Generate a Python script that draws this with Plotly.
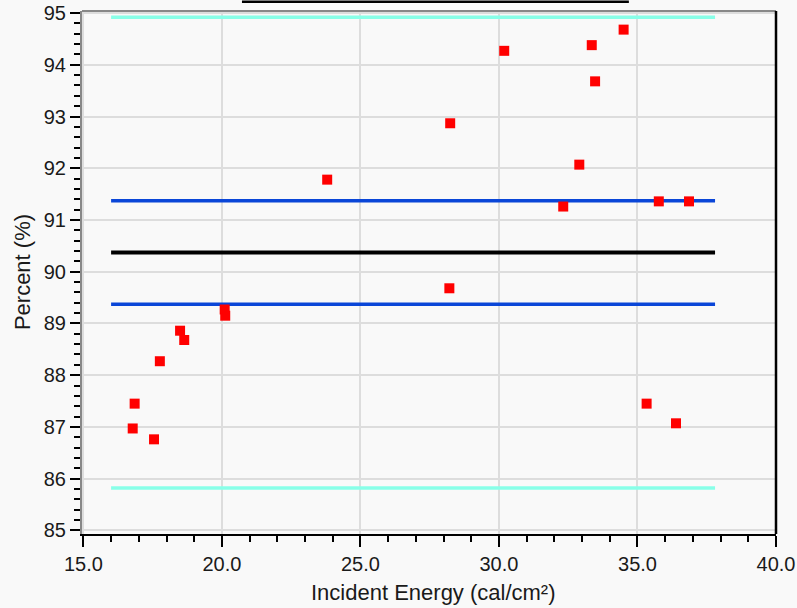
import plotly.graph_objects as go

energy = [23.80, 34.50, 33.35, 30.19, 33.47, 28.24, 32.90, 32.32, 35.77, 36.86, 28.21,
          20.10, 20.12, 18.49, 18.64, 17.76, 16.85, 16.78, 17.55, 35.33, 36.39]
percent = [91.78, 94.68, 94.38, 94.27, 93.68, 92.87, 92.07, 91.26, 91.36, 91.36, 89.68,
           89.27, 89.15, 88.86, 88.68, 88.27, 87.45, 86.97, 86.76, 87.45, 87.07]

line_x = [16.0, 37.8]
mean_val = 90.37
inner_limits = [91.37, 89.37]
outer_limits = [94.92, 85.82]

x_title = "Incident Energy (cal/cm²)"
y_title = "Percent (%)"

FONT = "Liberation Sans"
TXT = "#1a1a1a"
fig = go.Figure()

for v in outer_limits:
    fig.add_trace(go.Scatter(x=line_x, y=[v, v], mode="lines",
                             line=dict(color="#88ffe8", width=3.5), hoverinfo="skip"))
for v in inner_limits:
    fig.add_trace(go.Scatter(x=line_x, y=[v, v], mode="lines",
                             line=dict(color="#0a46d8", width=3.5), hoverinfo="skip"))
fig.add_trace(go.Scatter(x=line_x, y=[mean_val, mean_val], mode="lines",
                         line=dict(color="#000000", width=4), hoverinfo="skip"))
fig.add_trace(go.Scatter(x=energy, y=percent, mode="markers",
                         marker=dict(symbol="square", size=10, color="#ff0000",
                                     line=dict(width=0))))

fig.update_layout(
    width=797, height=608,
    margin=dict(l=82, r=21, t=11, b=74, autoexpand=False),
    paper_bgcolor="#f9f9f9", plot_bgcolor="#f9f9f9",
    showlegend=False,
    font=dict(family=FONT, color=TXT),
    xaxis=dict(range=[14.95, 40.0], dtick=5, tick0=15, tickformat=".1f",
               automargin=False,
               showgrid=True, gridcolor="#dddddd", gridwidth=1.5, zeroline=False,
               showline=True, linecolor="#000000", linewidth=2,
               ticks="outside", ticklen=11, tickwidth=2, tickcolor="#000000",
               minor=dict(dtick=1, ticks="outside", ticklen=6, tickwidth=2,
                          tickcolor="#000000", showgrid=False),
               tickfont=dict(size=20, family=FONT, color=TXT)),
    yaxis=dict(range=[84.93, 95.04], dtick=1, tick0=85,
               automargin=False,
               showgrid=True, gridcolor="#dddddd", gridwidth=1.5, zeroline=False,
               showline=True, linecolor="#888888", linewidth=2,
               ticks="outside", ticklen=10, tickwidth=2, tickcolor="#000000",
               minor=dict(dtick=0.2, ticks="outside", ticklen=6, tickwidth=2,
                          tickcolor="#000000", showgrid=False),
               tickfont=dict(size=20, family=FONT, color=TXT)),
)

fig.add_annotation(text=x_title, xref="paper", yref="paper", x=0.506, y=-0.1127,
                   xanchor="center", yanchor="middle", showarrow=False,
                   font=dict(size=22, family=FONT, color=TXT))
fig.add_annotation(text=y_title, xref="paper", yref="paper", x=-0.0865, y=0.5007,
                   xanchor="center", yanchor="middle", showarrow=False, textangle=-90,
                   font=dict(size=22, family=FONT, color=TXT))

# plot frame: gray top, black right
fig.add_shape(type="line", xref="paper", yref="paper", x0=0, x1=1, y0=1, y1=1,
              line=dict(color="#888888", width=2))
fig.add_shape(type="line", xref="paper", yref="paper", x0=1, x1=1, y0=0, y1=1,
              line=dict(color="#000000", width=2.5))
# cut-off title rule at the top
fig.add_shape(type="line", xref="paper", yref="paper", x0=0.2305, x1=0.788,
              y0=1.0176, y1=1.0176, line=dict(color="#000000", width=2.5))

fig.write_html("out.html",
               config={"displayModeBar": False},
               post_script="document.body.style.margin='0';"
                           "document.body.style.background='#f9f9f9';")
